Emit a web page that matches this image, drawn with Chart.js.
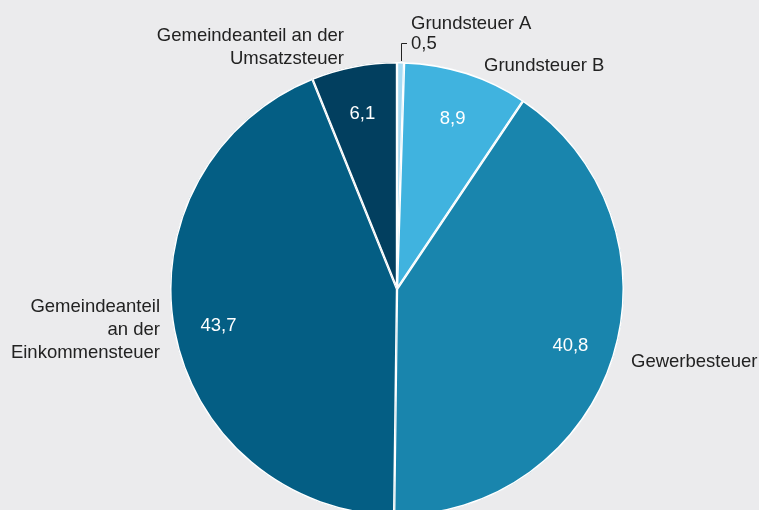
<!DOCTYPE html>
<html><head><meta charset="utf-8">
<script src="https://cdn.jsdelivr.net/npm/chart.js@4.4.0/dist/chart.umd.min.js"></script>
<style>
html,body{margin:0;padding:0;background:#ebebed;overflow:hidden;width:759px;height:510px;}
#wrap{width:759px;height:530px;}
</style></head>
<body><div id="wrap"><canvas id="c" width="759" height="530"></canvas></div>
<script>
// Data
const categories = ["Grundsteuer A", "Grundsteuer B", "Gewerbesteuer", "Gemeindeanteil an der Einkommensteuer", "Gemeindeanteil an der Umsatzsteuer"];
const values = [0.5, 8.9, 40.8, 43.7, 6.1];
const valueLabels = ["0,5", "8,9", "40,8", "43,7", "6,1"];
const labelLines = [["Grundsteuer A"], ["Grundsteuer B"], ["Gewerbesteuer"], ["Gemeindeanteil", "an der", "Einkommensteuer"], ["Gemeindeanteil an der", "Umsatzsteuer"]];

// Styles / layout (not data)
const colors = ["#a7dbf3", "#40b3df", "#1985ad", "#045e84", "#023f5f"];
const FONT = '18.5px "Liberation Sans", Arial, sans-serif';
const TEXT = '#222222';
// outer label anchors relative to pie center: [dx, dy of first baseline, align]
const outerLayout = [
  {dx: 14, dy: -260, align: 'left'},
  {dx: 87, dy: -218, align: 'left'},
  {dx: 234, dy: 78, align: 'left'},
  {dx: -237, dy: 23, align: 'right'},
  {dx: -53, dy: -248, align: 'right'}
];
const LINE_H = 23;

const labelPlugin = {
  id: 'labels',
  afterDraw(chart) {
    const ctx = chart.ctx;
    const meta = chart.getDatasetMeta(0);
    ctx.save();
    ctx.font = FONT;
    meta.data.forEach((arc, i) => {
      const {x, y, startAngle, endAngle, outerRadius} = arc.getProps(['x','y','startAngle','endAngle','outerRadius'], true);
      const mid = (startAngle + endAngle) / 2;
      // inner value label
      if (i !== 0) {
        const r = outerRadius * 0.8;
        ctx.fillStyle = '#ffffff';
        ctx.textAlign = 'center';
        ctx.textBaseline = 'middle';
        ctx.fillText(valueLabels[i], x + Math.cos(mid) * r, y + Math.sin(mid) * r + 3);
      }
      // outer labels
      const L = outerLayout[i];
      ctx.fillStyle = TEXT;
      ctx.textAlign = L.align;
      ctx.textBaseline = 'alphabetic';
      const lines = i === 0 ? [labelLines[0][0], valueLabels[0]] : labelLines[i];
      lines.forEach((t, k) => {
        const lh = (i === 0) ? 20 : LINE_H;
        ctx.fillText(t, x + L.dx, y + L.dy + k * lh);
      });
      if (i === 0) {
        const ex = x + Math.cos(mid) * outerRadius;
        const ey = y + Math.sin(mid) * outerRadius;
        const ty = y + L.dy + 20 - 6;
        ctx.strokeStyle = TEXT;
        ctx.lineWidth = 1;
        ctx.beginPath();
        ctx.moveTo(Math.round(ex) + 0.5, ey - 1);
        ctx.lineTo(Math.round(ex) + 0.5, ty + 0.5);
        ctx.lineTo(Math.round(ex) + 6, ty + 0.5);
        ctx.stroke();
      }
    });
    ctx.restore();
  }
};

new Chart(document.getElementById('c'), {
  type: 'pie',
  data: {
    labels: categories,
    datasets: [{
      data: values,
      backgroundColor: colors,
      borderColor: '#ffffff',
      borderWidth: 1.2,
      borderAlign: 'inner'
    }]
  },
  options: {
    responsive: false,
    animation: false,
    layout: {padding: {left: 170, right: 135, top: 62, bottom: 14}},
    plugins: {legend: {display: false}, tooltip: {enabled: false}}
  },
  plugins: [labelPlugin]
});
</script>
</body></html>
